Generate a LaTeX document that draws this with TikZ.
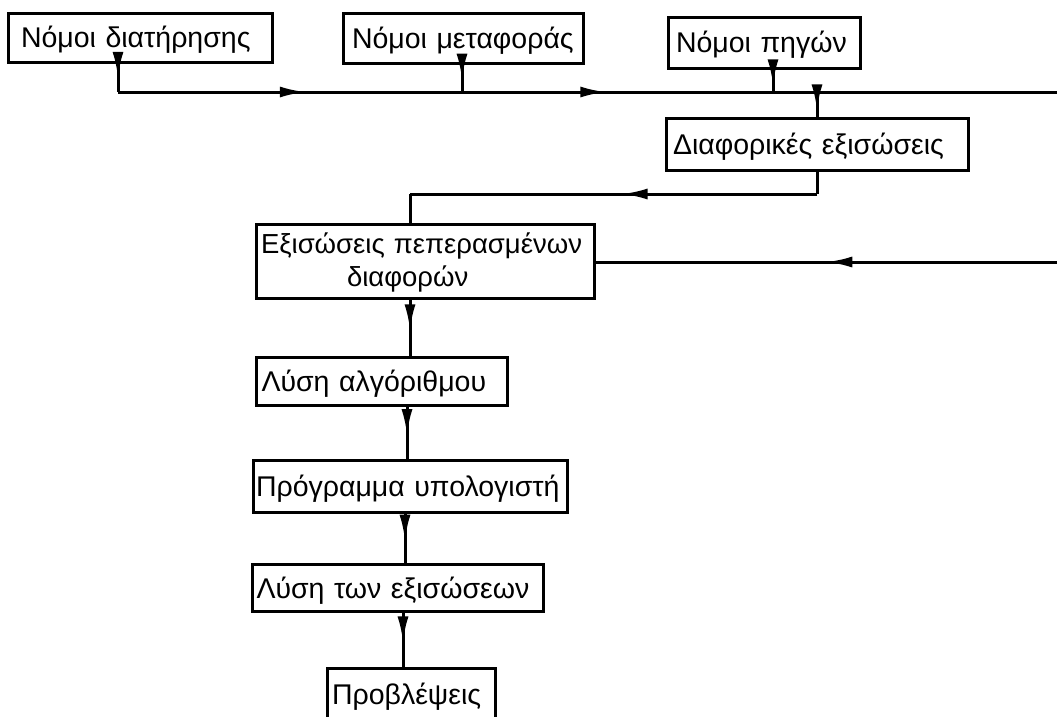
\documentclass[tikz,border=0pt]{standalone}
\usepackage{fontspec}
\setmainfont{Liberation Sans}
\usetikzlibrary{arrows.meta,decorations.markings}
\tikzset{
  boxbase/.style={draw, line width=3pt, inner ysep=0pt, font=\fontsize{28.5}{34}\selectfont, align=left},
  box/.style={boxbase, text depth=0.1em},
  conn/.style={line width=3pt},
  midarrow/.style={postaction={decorate,decoration={markings,mark=at position #1 with {\arrow{Latex[length=26pt,width=11pt]}}}}}
}
\begin{document}
\begin{tikzpicture}[x=1pt,y=-1pt]
\useasboundingbox (0,0) rectangle (1057,716);
\clip (0,0) rectangle (1057,716);
\node[box, text width=238pt, minimum height=49pt, inner xsep=13pt] (b1) at (140,37.5) {Νόμοι~διατήρησης};
\node[box, text width=222pt, minimum height=50pt, inner xsep=9pt] (b2) at (463,38) {Νόμοι~μεταφοράς};
\node[box, text width=176pt, minimum height=51pt, inner xsep=8pt] (b3) at (764,42.5) {Νόμοι~πηγών};
\node[box, text width=288pt, minimum height=52pt, inner xsep=7pt] (b4) at (817,144) {Διαφορικές~εξισώσεις};
\node[boxbase, font=\fontsize{27.5}{33}\selectfont, text width=328pt, minimum height=74pt, inner xsep=5pt] (b5) at (425,261) {\rule{0pt}{24pt}Εξισώσεις~πεπερασμένων\\\hspace*{86pt}διαφορών};
\node[box, text width=241pt, minimum height=48pt, inner xsep=5pt] (b6) at (382,381) {Λύση~αλγόριθμου};
\node[box, text width=308pt, minimum height=52pt, inner xsep=3pt] (b7) at (410,486) {Πρόγραμμα~υπολογιστή};
\node[box, text width=283pt, minimum height=47pt, inner xsep=4pt] (b8) at (398,588) {Λύση~των~εξισώσεων};
\node[box, text width=158pt, minimum height=52pt, inner xsep=5pt] (b9) at (411,694) {Προβλέψεις};
% bus
\coordinate (j1) at (118,92);
\coordinate (j2) at (462,92);
\coordinate (j3) at (773,92);
\coordinate (j4) at (817,92);
\coordinate (e1) at (1057,92);
\coordinate (k1) at (817,194);
\coordinate (k2) at (410,194);
\coordinate (e2) at (1057,262);
\draw[conn, midarrow=0.5] (b1.south -| j1) -- (j1);
\draw[conn, midarrow=0.2, midarrow=0.52] (j1) -- (e1);
\draw[conn, midarrow=0.55] (b2.south -| j2) -- (j2);
\draw[conn, midarrow=0.7] (b3.south -| j3) -- (j3);
\draw[conn, midarrow=0.75] (j4) -- (b4.north -| j4);
\draw[conn] (b4.south -| k1) -- (k1);
\draw[conn, midarrow=0.48] (k1) -- (k2);
\draw[conn] (k2) -- (b5.north -| k2);
\draw[conn, midarrow=0.5] (e2) -- (b5.east |- e2);
\draw[conn, midarrow=0.55] (b5.south -| k2) -- (b6.north -| k2);
\draw[conn, midarrow=0.55] (b6.south -| 407,0) -- (b7.north -| 407,0);
\draw[conn, midarrow=0.55] (b7.south -| 405,0) -- (b8.north -| 405,0);
\draw[conn, midarrow=0.55] (b8.south -| 403,0) -- (b9.north -| 403,0);
\end{tikzpicture}
\end{document}
